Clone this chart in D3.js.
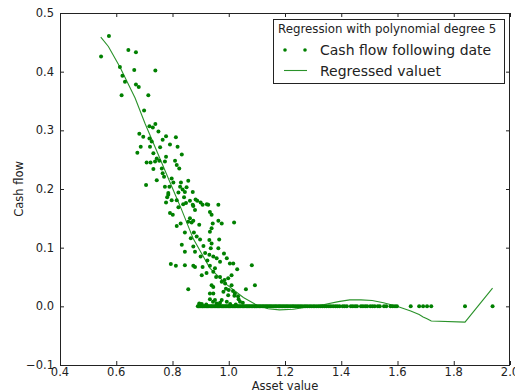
<!DOCTYPE html>
<html>
<head>
<meta charset="utf-8">
<script src="https://cdn.jsdelivr.net/npm/d3@7"></script>
<style>
  html, body { margin: 0; padding: 0; background: #fff; }
  svg { display: block; font-family: "DejaVu Sans", sans-serif; }
</style>
</head>
<body>
<svg id="chart" width="515" height="392"></svg>
<script>
// ---------------- data ----------------
const xTicks = [0.4, 0.6, 0.8, 1.0, 1.2, 1.4, 1.6, 1.8, 2.0];
const yTicks = [-0.1, 0.0, 0.1, 0.2, 0.3, 0.4, 0.5];
const xLabel = "Asset value";
const yLabel = "Cash flow";
const legendTitle = "Regression with polynomial degree 5";
const seriesNames = ["Cash flow following date", "Regressed valuet"];

// observed cash flows (asset value, cash flow) with positive cash flow
const cashFlowPoints = [
  [0.546,0.426],[0.574,0.461],[0.643,0.437],[0.670,0.433],[0.613,0.408],[0.664,0.403],[0.739,0.402],
  [0.622,0.393],[0.631,0.383],[0.670,0.378],[0.680,0.374],[0.619,0.360],[0.714,0.360],[0.699,0.334],
  [0.739,0.311],[0.718,0.307],[0.730,0.305],[0.682,0.294],[0.696,0.289],[0.718,0.286],[0.726,0.281],
  [0.750,0.298],[0.777,0.290],[0.765,0.284],[0.812,0.288],[0.791,0.276],[0.687,0.272],[0.720,0.272],
  [0.756,0.271],[0.818,0.272],[0.675,0.262],[0.732,0.261],[0.833,0.259],[0.744,0.252],[0.777,0.255],
  [0.708,0.245],[0.722,0.245],[0.738,0.247],[0.753,0.248],[0.773,0.247],[0.809,0.248],[0.815,0.241],
  [0.762,0.235],[0.824,0.235],[0.732,0.234],[0.765,0.227],[0.770,0.221],[0.744,0.215],[0.797,0.218],
  [0.803,0.211],[0.830,0.211],[0.856,0.214],[0.706,0.207],[0.773,0.204],[0.789,0.204],[0.827,0.204],
  [0.836,0.199],[0.850,0.203],[0.872,0.195],[0.785,0.193],[0.781,0.186],[0.841,0.186],[0.815,0.181],
  [0.777,0.177],[0.838,0.174],[0.862,0.180],[0.872,0.173],[0.888,0.180],[0.907,0.173],[0.922,0.174],
  [0.821,0.169],[0.785,0.190],[0.821,0.194],[0.844,0.195],[0.797,0.181],[0.848,0.176],[0.882,0.182],
  [0.900,0.177],[0.874,0.171],[0.880,0.164],[0.927,0.173],[0.963,0.173],[0.791,0.159],[0.801,0.156],
  [0.933,0.161],[0.939,0.156],[0.862,0.150],[0.856,0.144],[0.868,0.143],[0.874,0.146],[0.895,0.139],
  [0.829,0.141],[0.815,0.137],[0.963,0.146],[0.975,0.141],[1.019,0.143],[0.943,0.141],[0.844,0.126],
  [0.876,0.126],[0.939,0.133],[0.933,0.127],[0.886,0.119],[0.898,0.114],[0.865,0.116],[0.966,0.114],
  [0.931,0.113],[0.939,0.107],[0.833,0.105],[0.874,0.102],[0.910,0.103],[0.936,0.099],[0.963,0.099],
  [0.844,0.093],[0.880,0.093],[0.916,0.091],[0.931,0.088],[0.983,0.090],[0.900,0.085],[0.945,0.085],
  [0.993,0.082],[0.924,0.078],[0.957,0.082],[0.969,0.076],[1.004,0.073],[0.794,0.072],[0.812,0.069],
  [0.844,0.070],[0.874,0.069],[0.880,0.067],[0.907,0.067],[0.933,0.069],[0.951,0.065],[1.016,0.073],
  [1.030,0.063],[1.082,0.070],[0.904,0.053],[0.921,0.057],[0.945,0.059],[0.969,0.050],[0.998,0.048],
  [1.010,0.053],[0.939,0.036],[0.945,0.033],[0.987,0.039],[1.010,0.036],[0.856,0.029],[0.933,0.022],
  [0.945,0.022],[0.981,0.025],[1.022,0.022],[0.998,0.019],[1.061,0.029],[1.093,0.036],[0.933,0.012],
  [0.951,0.011],[0.969,0.006],[0.993,0.008],[1.040,0.008],[0.895,0.005],[0.990,0.030],[1.000,0.028],
  [1.020,0.018],[1.035,0.012],[1.050,0.006],[0.975,0.042],[0.985,0.045],[0.955,0.050],[1.015,0.026],
  [1.033,0.017],[0.975,0.011],[0.944,0.008],[0.957,0.005],[0.904,0.004],[0.920,0.003],[0.965,0.003],
  [1.005,0.004],[1.025,0.003]
];

// asset values whose following cash flow is zero
const zeroFlowAssets = [
  0.890,0.893,0.897,0.901,0.905,0.908,0.912,0.916,0.921,0.925,0.929,0.934,0.938,0.942,0.947,0.951,
  0.955,0.960,0.964,0.968,0.973,0.977,0.981,0.986,0.990,0.994,0.999,1.003,1.007,1.012,1.016,1.021,
  1.025,1.030,1.034,1.039,1.043,1.048,1.052,1.057,1.062,1.066,1.071,1.075,1.080,1.085,1.090,1.094,
  1.099,1.104,1.109,1.114,1.119,1.124,1.129,1.134,1.139,1.144,1.149,1.154,1.160,1.165,1.170,1.176,
  1.181,1.186,1.192,1.197,1.203,1.208,1.214,1.220,1.226,1.231,1.237,1.243,1.249,1.255,1.261,1.268,
  1.274,1.280,1.287,1.293,1.300,1.306,1.313,1.320,1.327,1.334,1.341,1.348,1.356,1.363,1.371,1.379,
  1.386,1.394,1.405,1.412,1.420,1.434,1.441,1.449,1.456,1.470,1.477,1.485,1.492,1.503,1.511,1.519,
  1.530,1.537,1.552,1.560,1.575,1.583,1.591,1.598,1.647,1.677,1.691,1.705,1.720,1.840,1.938
];

// regressed values (asset value, fitted cash flow)
const regressedAssets = [0.545,0.572,0.613,0.667,0.702,0.750,0.803,0.833,0.874,0.933,0.993,1.052,1.100,1.140,1.180,1.230,1.280,1.340,1.390,1.430,1.470,1.510,1.550,1.598,1.647,1.677,1.691,1.705,1.720,1.840,1.938];
const regressedValues = [0.459,0.443,0.408,0.355,0.312,0.258,0.198,0.164,0.115,0.065,0.037,0.015,0.002,-0.004,-0.006,-0.005,-0.001,0.003,0.008,0.011,0.011,0.010,0.006,0.000,-0.008,-0.014,-0.018,-0.021,-0.025,-0.027,0.031];

// ---------------- chart ----------------
const svg = d3.select("#chart");
const L = 60, R = 510, T = 13, B = 365;
const x = d3.scaleLinear().domain([0.4, 2.0]).range([L, R]);
const y = d3.scaleLinear().domain([-0.1, 0.5]).range([B, T]);
const green = "#008000";
const ink = "#222";
const fmt = v => (v < 0 ? "\u2212" : "") + d3.format(".1f")(Math.abs(v));

// line
const lineData = regressedAssets.map((a, i) => [a, regressedValues[i]]);
svg.append("path")
  .datum(lineData)
  .attr("fill", "none")
  .attr("stroke", "#2a922a")
  .attr("stroke-width", 1.1)
  .attr("d", d3.line().x(d => x(d[0])).y(d => y(d[1])));

// points
const allPoints = cashFlowPoints.concat(zeroFlowAssets.map(a => [a, 0]));
svg.append("g").selectAll("circle")
  .data(allPoints)
  .join("circle")
  .attr("cx", d => x(d[0]))
  .attr("cy", d => y(d[1]))
  .attr("r", 2)
  .attr("fill", green);

// axes ticks (inward) on all four sides
function styleAxis(g) {
  g.select(".domain").remove();
  g.selectAll(".tick line").attr("stroke", ink);
  g.selectAll(".tick text").remove();
}
svg.append("g").attr("transform", `translate(0,${B})`)
  .call(d3.axisBottom(x).tickValues(xTicks).tickSizeInner(-4).tickSizeOuter(0)).call(styleAxis);
svg.append("g").attr("transform", `translate(0,${T})`)
  .call(d3.axisTop(x).tickValues(xTicks).tickSizeInner(-4).tickSizeOuter(0)).call(styleAxis);
svg.append("g").attr("transform", `translate(${L},0)`)
  .call(d3.axisLeft(y).tickValues(yTicks).tickSizeInner(-4).tickSizeOuter(0)).call(styleAxis);
svg.append("g").attr("transform", `translate(${R},0)`)
  .call(d3.axisRight(y).tickValues(yTicks).tickSizeInner(-4).tickSizeOuter(0)).call(styleAxis);

// frame
svg.append("rect")
  .attr("x", L + 0.5).attr("y", T + 0.5)
  .attr("width", R - L - 1).attr("height", B - T)
  .attr("fill", "none").attr("stroke", ink).attr("stroke-width", 1);

// tick labels
svg.append("g").selectAll("text")
  .data(xTicks).join("text")
  .attr("x", d => x(d)).attr("y", 376)
  .attr("text-anchor", "middle")
  .attr("font-size", 11.5).attr("fill", ink)
  .text(fmt);
svg.append("g").selectAll("text")
  .data(yTicks).join("text")
  .attr("x", 54).attr("y", d => y(d) + 4)
  .attr("text-anchor", "end")
  .attr("font-size", 11.5).attr("fill", ink)
  .text(fmt);

// axis titles
svg.append("text").attr("x", 285).attr("y", 390)
  .attr("text-anchor", "middle").attr("font-size", 11.5).attr("fill", ink).text(xLabel);
svg.append("text").attr("transform", "translate(23,189) rotate(-90)")
  .attr("text-anchor", "middle").attr("font-size", 11.5).attr("fill", ink).text(yLabel);

// legend
const lg = svg.append("g");
lg.append("rect").attr("x", 273.5).attr("y", 19.5).attr("width", 231).attr("height", 64)
  .attr("fill", "#fff").attr("stroke", ink).attr("stroke-width", 1);
lg.append("text").attr("x", 278).attr("y", 33).attr("font-size", 11.8).attr("fill", ink).text(legendTitle);
lg.selectAll("circle.leg").data([285, 305]).join("circle")
  .attr("class", "leg").attr("cx", d => d).attr("cy", 50).attr("r", 1.8).attr("fill", green);
lg.append("text").attr("x", 320).attr("y", 54.5).attr("font-size", 14).attr("fill", ink).text(seriesNames[0]);
lg.append("line").attr("x1", 284).attr("x2", 307).attr("y1", 70.5).attr("y2", 70.5)
  .attr("stroke", "#2a922a").attr("stroke-width", 1.1);
lg.append("text").attr("x", 320).attr("y", 75.5).attr("font-size", 14).attr("fill", ink).text(seriesNames[1]);
</script>
</body>
</html>
